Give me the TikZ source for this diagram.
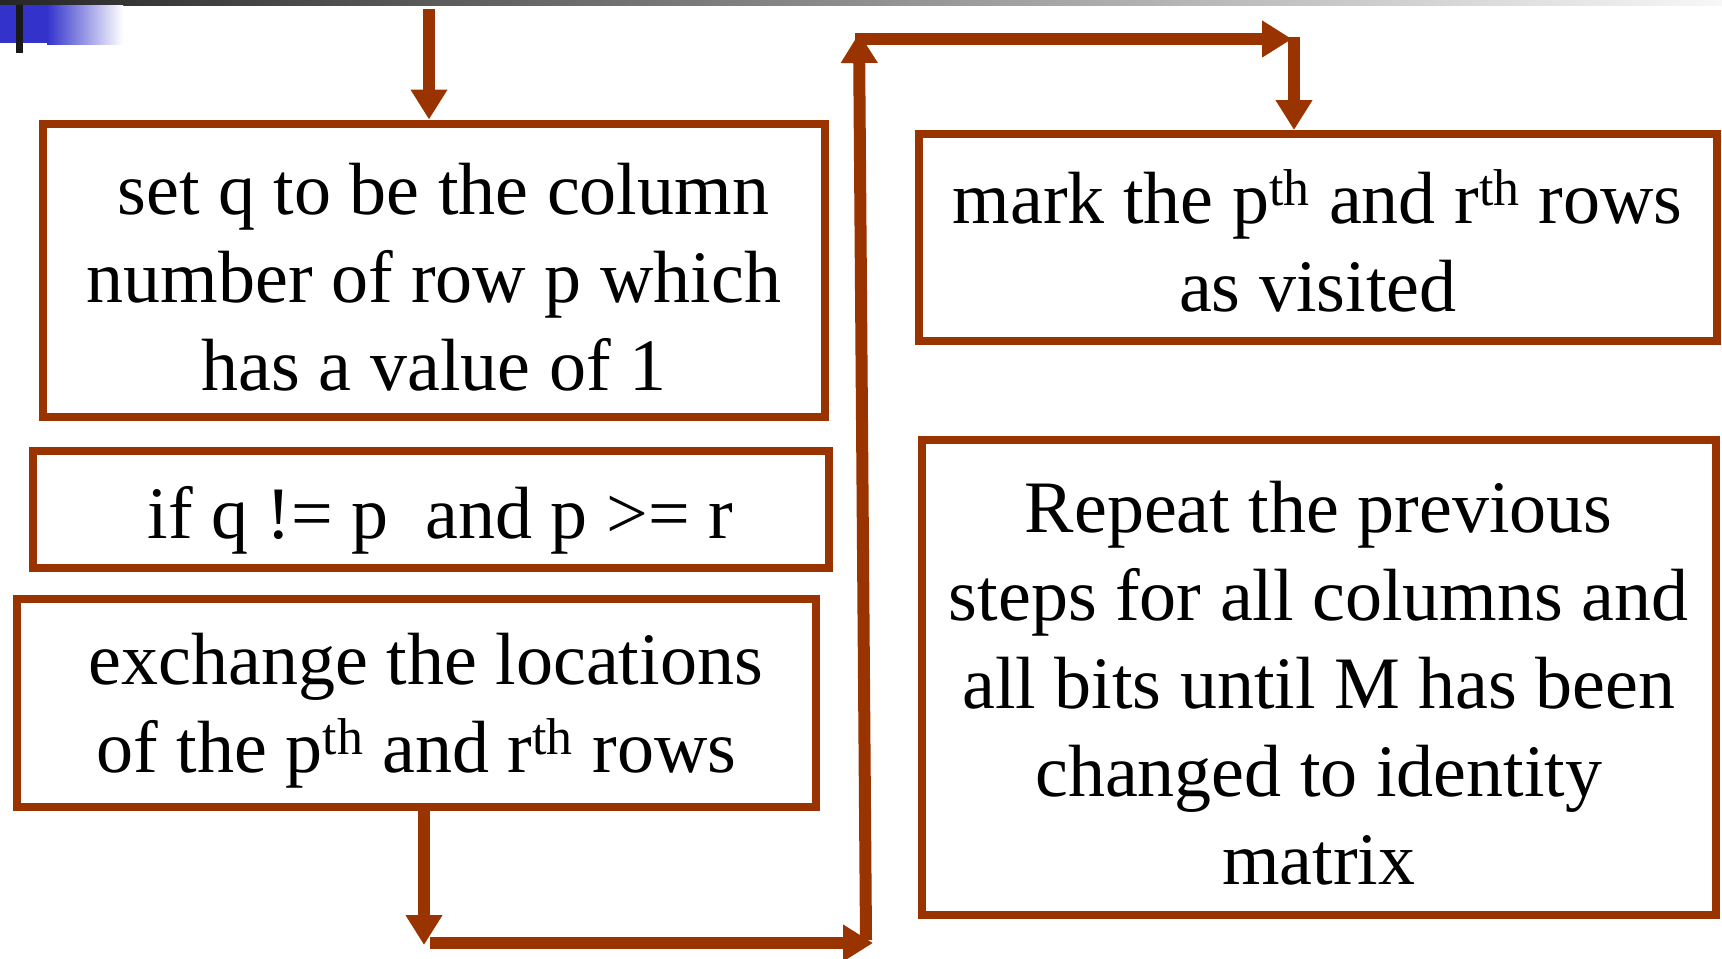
\documentclass[tikz,border=0pt]{standalone}
\usepackage{fontspec}
\setmainfont{Liberation Serif}
\usepackage{tikz}
\usetikzlibrary{positioning,arrows.meta}
\definecolor{brn}{HTML}{993300}
\definecolor{blu}{HTML}{3333CC}

\begin{document}
\begin{tikzpicture}[x=0.5pt, y=-0.5pt,
  font=\fontsize{37}{44}\selectfont,
  box/.style={draw=brn, line width=4pt, align=center, inner sep=2pt,
    fill=white, text=black, text depth=0pt},
  conn/.style={draw=brn, line width=6pt, -{Triangle[length=15pt,width=17.5pt]}}]
\useasboundingbox (0,0) rectangle (1722,958);
% slide decoration, top left
\shade[left color=black!85, right color=black!3] (0,0) rectangle (1722,5);
\fill[blu] (0,5) rectangle (47,43);
\shade[left color=blu, right color=white] (47,5) rectangle (123,44);
\fill[black!90] (16,5) rectangle (23,53);
% steps
\node[box, minimum width=390.75pt, minimum height=146.5pt, text height=120pt] (setq) at (434,270)
  {~set q to be the column\\ number of row p which\\ has a value of 1};
\node[box, minimum width=398pt, minimum height=58.5pt, text height=29pt] (ifq) at (431,509.5)
  {~if q != p~~and p >= r};
\node[box, minimum width=399.5pt, minimum height=103.75pt, text height=70pt] (swap) at (416.5,702.75)
  {~exchange the locations\\ of the p\textsuperscript{th} and r\textsuperscript{th} rows};
\node[box, minimum width=399.25pt, minimum height=103.5pt, text height=74.4pt] (mark) at (1317.75,237.5)
  {mark the p\textsuperscript{th} and r\textsuperscript{th} rows\\ as visited};
\node[box, minimum width=397.25pt, minimum height=237.5pt, text height=206.6pt] (repeat) at (1318.75,677.5)
  {Repeat the previous\\ steps for all columns and\\ all bits until M has been\\ changed to identity\\ matrix};
% arrows
\coordinate (in) at (429,9);
\coordinate (c1) at (424,945);
\coordinate (c2) at (430,943);
\coordinate (c3) at (873,943);
\coordinate (c4) at (866,940);
\coordinate (c5) at (859,33);
\coordinate (c6) at (855,39);
\coordinate (c7) at (1292,39);
\coordinate (c8) at (1294,37);
\draw[conn] (in) -- (in |- setq.north);
\draw[conn] (swap.south -| c1) -- (c1);
\draw[conn] (c2) -- (c3);
\draw[conn] (c4) -- (c5);
\draw[conn] (c6) -- (c7);
\draw[conn] (c8) -- (c8 |- mark.north);
\end{tikzpicture}
\end{document}
